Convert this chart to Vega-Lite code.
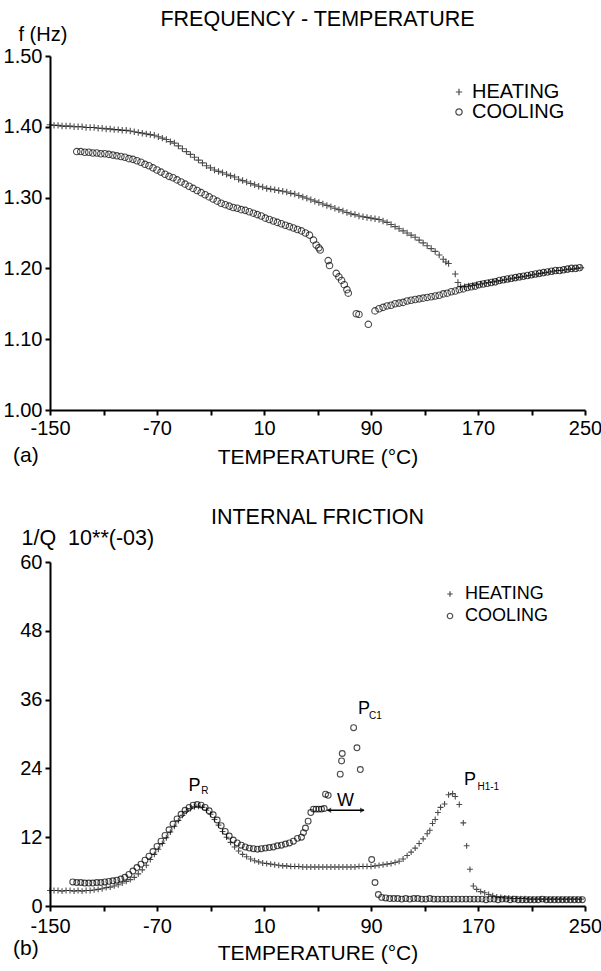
{
"$schema": "https://vega.github.io/schema/vega-lite/v6.json",
"background": "white",
"padding": {"left": 3, "top": 8, "right": 2, "bottom": 2},
"config": {
  "view": {"stroke": null},
  "font": "Liberation Sans",
  "axis": {"grid": false, "domainColor": "black", "domainWidth": 2, "tickColor": "black", "tickWidth": 2, "tickSize": 5, "labelFont": "Liberation Sans", "labelFontSize": 20, "labelColor": "black", "labelPadding": 3, "titleFont": "Liberation Sans", "titleFontSize": 21, "titleFontWeight": "normal", "titleColor": "black", "labelOverlap": false, "labelFlush": false},
  "title": {"font": "Liberation Sans", "fontSize": 21.5, "fontWeight": "normal", "color": "black"},
  "legend": {"labelFont": "Liberation Sans", "labelColor": "black", "title": null, "padding": 0, "symbolStrokeColor": "#000", "symbolStrokeWidth": 1.2}
},
"datasets": {
  "top": [
{"run":"HEATING","T":-150,"f":1.403},{"run":"HEATING","T":-147,"f":1.402},{"run":"HEATING","T":-144,"f":1.402},{"run":"HEATING","T":-141,"f":1.401},{"run":"HEATING","T":-138,"f":1.401},{"run":"HEATING","T":-135,"f":1.401},{"run":"HEATING","T":-132,"f":1.400},{"run":"HEATING","T":-129,"f":1.400},{"run":"HEATING","T":-126,"f":1.400},{"run":"HEATING","T":-123,"f":1.399},{"run":"HEATING","T":-120,"f":1.399},{"run":"HEATING","T":-117,"f":1.399},{"run":"HEATING","T":-114,"f":1.398},{"run":"HEATING","T":-111,"f":1.398},{"run":"HEATING","T":-108,"f":1.397},{"run":"HEATING","T":-105,"f":1.397},{"run":"HEATING","T":-102,"f":1.396},{"run":"HEATING","T":-99,"f":1.396},{"run":"HEATING","T":-96,"f":1.395},{"run":"HEATING","T":-93,"f":1.395},{"run":"HEATING","T":-90,"f":1.394},{"run":"HEATING","T":-87,"f":1.393},{"run":"HEATING","T":-84,"f":1.392},{"run":"HEATING","T":-81,"f":1.391},{"run":"HEATING","T":-78,"f":1.390},{"run":"HEATING","T":-75,"f":1.389},{"run":"HEATING","T":-72,"f":1.388},{"run":"HEATING","T":-69,"f":1.386},{"run":"HEATING","T":-66,"f":1.384},{"run":"HEATING","T":-63,"f":1.382},{"run":"HEATING","T":-60,"f":1.379},{"run":"HEATING","T":-57,"f":1.377},{"run":"HEATING","T":-54,"f":1.373},{"run":"HEATING","T":-51,"f":1.369},{"run":"HEATING","T":-48,"f":1.365},{"run":"HEATING","T":-45,"f":1.361},{"run":"HEATING","T":-42,"f":1.357},{"run":"HEATING","T":-39,"f":1.353},{"run":"HEATING","T":-36,"f":1.349},{"run":"HEATING","T":-33,"f":1.345},{"run":"HEATING","T":-30,"f":1.342},{"run":"HEATING","T":-27,"f":1.339},{"run":"HEATING","T":-24,"f":1.337},{"run":"HEATING","T":-21,"f":1.335},{"run":"HEATING","T":-18,"f":1.333},{"run":"HEATING","T":-15,"f":1.331},{"run":"HEATING","T":-12,"f":1.329},{"run":"HEATING","T":-9,"f":1.326},{"run":"HEATING","T":-6,"f":1.324},{"run":"HEATING","T":-3,"f":1.322},{"run":"HEATING","T":0,"f":1.320},{"run":"HEATING","T":3,"f":1.318},{"run":"HEATING","T":6,"f":1.316},{"run":"HEATING","T":9,"f":1.315},{"run":"HEATING","T":12,"f":1.313},{"run":"HEATING","T":15,"f":1.312},{"run":"HEATING","T":18,"f":1.311},{"run":"HEATING","T":21,"f":1.310},{"run":"HEATING","T":24,"f":1.309},{"run":"HEATING","T":27,"f":1.308},{"run":"HEATING","T":30,"f":1.306},{"run":"HEATING","T":33,"f":1.305},{"run":"HEATING","T":36,"f":1.303},{"run":"HEATING","T":39,"f":1.301},{"run":"HEATING","T":42,"f":1.299},{"run":"HEATING","T":45,"f":1.297},{"run":"HEATING","T":48,"f":1.295},{"run":"HEATING","T":51,"f":1.293},{"run":"HEATING","T":54,"f":1.291},{"run":"HEATING","T":57,"f":1.289},{"run":"HEATING","T":60,"f":1.287},{"run":"HEATING","T":63,"f":1.285},{"run":"HEATING","T":66,"f":1.283},{"run":"HEATING","T":69,"f":1.281},{"run":"HEATING","T":72,"f":1.279},{"run":"HEATING","T":75,"f":1.277},{"run":"HEATING","T":78,"f":1.276},{"run":"HEATING","T":81,"f":1.274},{"run":"HEATING","T":84,"f":1.273},{"run":"HEATING","T":87,"f":1.272},{"run":"HEATING","T":90,"f":1.271},{"run":"HEATING","T":93,"f":1.270},{"run":"HEATING","T":96,"f":1.269},{"run":"HEATING","T":99,"f":1.267},{"run":"HEATING","T":102,"f":1.265},{"run":"HEATING","T":105,"f":1.262},{"run":"HEATING","T":108,"f":1.259},{"run":"HEATING","T":111,"f":1.256},{"run":"HEATING","T":114,"f":1.253},{"run":"HEATING","T":117,"f":1.250},{"run":"HEATING","T":120,"f":1.247},{"run":"HEATING","T":123,"f":1.244},{"run":"HEATING","T":126,"f":1.240},{"run":"HEATING","T":129,"f":1.236},{"run":"HEATING","T":132,"f":1.232},{"run":"HEATING","T":135,"f":1.228},{"run":"HEATING","T":138,"f":1.224},{"run":"HEATING","T":141,"f":1.219},{"run":"HEATING","T":144,"f":1.213},{"run":"HEATING","T":146,"f":1.209},{"run":"HEATING","T":148,"f":1.207},{"run":"HEATING","T":153,"f":1.192},{"run":"HEATING","T":155,"f":1.180},{"run":"HEATING","T":157,"f":1.174},{"run":"HEATING","T":160,"f":1.174},{"run":"HEATING","T":163,"f":1.175},{"run":"HEATING","T":166,"f":1.176},{"run":"HEATING","T":169,"f":1.177},{"run":"HEATING","T":172,"f":1.178},{"run":"HEATING","T":175,"f":1.179},{"run":"HEATING","T":178,"f":1.180},{"run":"HEATING","T":181,"f":1.181},{"run":"HEATING","T":184,"f":1.182},{"run":"HEATING","T":187,"f":1.183},{"run":"HEATING","T":190,"f":1.184},{"run":"HEATING","T":193,"f":1.185},{"run":"HEATING","T":196,"f":1.186},{"run":"HEATING","T":199,"f":1.187},{"run":"HEATING","T":202,"f":1.188},{"run":"HEATING","T":205,"f":1.189},{"run":"HEATING","T":208,"f":1.190},{"run":"HEATING","T":211,"f":1.191},{"run":"HEATING","T":214,"f":1.192},{"run":"HEATING","T":217,"f":1.193},{"run":"HEATING","T":220,"f":1.194},{"run":"HEATING","T":223,"f":1.195},{"run":"HEATING","T":226,"f":1.196},{"run":"HEATING","T":229,"f":1.197},{"run":"HEATING","T":232,"f":1.197},{"run":"HEATING","T":235,"f":1.198},{"run":"HEATING","T":238,"f":1.199},{"run":"HEATING","T":241,"f":1.199},{"run":"HEATING","T":244,"f":1.200},{"run":"HEATING","T":247,"f":1.201},
{"run":"COOLING","T":-130,"f":1.365},{"run":"COOLING","T":-127,"f":1.365},{"run":"COOLING","T":-124,"f":1.364},{"run":"COOLING","T":-121,"f":1.364},{"run":"COOLING","T":-118,"f":1.363},{"run":"COOLING","T":-115,"f":1.363},{"run":"COOLING","T":-112,"f":1.362},{"run":"COOLING","T":-109,"f":1.362},{"run":"COOLING","T":-106,"f":1.361},{"run":"COOLING","T":-103,"f":1.360},{"run":"COOLING","T":-100,"f":1.359},{"run":"COOLING","T":-97,"f":1.358},{"run":"COOLING","T":-94,"f":1.357},{"run":"COOLING","T":-91,"f":1.355},{"run":"COOLING","T":-88,"f":1.354},{"run":"COOLING","T":-85,"f":1.352},{"run":"COOLING","T":-82,"f":1.350},{"run":"COOLING","T":-79,"f":1.347},{"run":"COOLING","T":-76,"f":1.345},{"run":"COOLING","T":-73,"f":1.342},{"run":"COOLING","T":-70,"f":1.339},{"run":"COOLING","T":-67,"f":1.336},{"run":"COOLING","T":-64,"f":1.333},{"run":"COOLING","T":-61,"f":1.330},{"run":"COOLING","T":-58,"f":1.328},{"run":"COOLING","T":-55,"f":1.325},{"run":"COOLING","T":-52,"f":1.322},{"run":"COOLING","T":-49,"f":1.319},{"run":"COOLING","T":-46,"f":1.316},{"run":"COOLING","T":-43,"f":1.313},{"run":"COOLING","T":-40,"f":1.310},{"run":"COOLING","T":-37,"f":1.307},{"run":"COOLING","T":-34,"f":1.304},{"run":"COOLING","T":-31,"f":1.301},{"run":"COOLING","T":-28,"f":1.298},{"run":"COOLING","T":-25,"f":1.295},{"run":"COOLING","T":-22,"f":1.292},{"run":"COOLING","T":-19,"f":1.290},{"run":"COOLING","T":-16,"f":1.288},{"run":"COOLING","T":-13,"f":1.286},{"run":"COOLING","T":-10,"f":1.285},{"run":"COOLING","T":-7,"f":1.283},{"run":"COOLING","T":-4,"f":1.282},{"run":"COOLING","T":-1,"f":1.280},{"run":"COOLING","T":2,"f":1.278},{"run":"COOLING","T":5,"f":1.276},{"run":"COOLING","T":8,"f":1.274},{"run":"COOLING","T":11,"f":1.271},{"run":"COOLING","T":14,"f":1.269},{"run":"COOLING","T":17,"f":1.267},{"run":"COOLING","T":20,"f":1.265},{"run":"COOLING","T":23,"f":1.263},{"run":"COOLING","T":26,"f":1.261},{"run":"COOLING","T":29,"f":1.259},{"run":"COOLING","T":32,"f":1.257},{"run":"COOLING","T":35,"f":1.255},{"run":"COOLING","T":38,"f":1.253},{"run":"COOLING","T":41,"f":1.250},{"run":"COOLING","T":44,"f":1.247},{"run":"COOLING","T":47,"f":1.240},{"run":"COOLING","T":49,"f":1.233},{"run":"COOLING","T":51,"f":1.229},{"run":"COOLING","T":52,"f":1.226},{"run":"COOLING","T":58,"f":1.211},{"run":"COOLING","T":59,"f":1.204},{"run":"COOLING","T":64,"f":1.193},{"run":"COOLING","T":66,"f":1.188},{"run":"COOLING","T":68,"f":1.183},{"run":"COOLING","T":70,"f":1.177},{"run":"COOLING","T":72,"f":1.170},{"run":"COOLING","T":73,"f":1.165},{"run":"COOLING","T":79,"f":1.136},{"run":"COOLING","T":81,"f":1.135},{"run":"COOLING","T":88,"f":1.121},{"run":"COOLING","T":93,"f":1.140},{"run":"COOLING","T":96,"f":1.143},{"run":"COOLING","T":99,"f":1.145},{"run":"COOLING","T":102,"f":1.147},{"run":"COOLING","T":105,"f":1.148},{"run":"COOLING","T":108,"f":1.150},{"run":"COOLING","T":111,"f":1.151},{"run":"COOLING","T":114,"f":1.152},{"run":"COOLING","T":117,"f":1.154},{"run":"COOLING","T":120,"f":1.155},{"run":"COOLING","T":123,"f":1.156},{"run":"COOLING","T":126,"f":1.157},{"run":"COOLING","T":129,"f":1.158},{"run":"COOLING","T":132,"f":1.159},{"run":"COOLING","T":135,"f":1.160},{"run":"COOLING","T":138,"f":1.161},{"run":"COOLING","T":141,"f":1.162},{"run":"COOLING","T":144,"f":1.164},{"run":"COOLING","T":147,"f":1.165},{"run":"COOLING","T":150,"f":1.167},{"run":"COOLING","T":153,"f":1.168},{"run":"COOLING","T":156,"f":1.170},{"run":"COOLING","T":159,"f":1.171},{"run":"COOLING","T":162,"f":1.173},{"run":"COOLING","T":165,"f":1.174},{"run":"COOLING","T":168,"f":1.175},{"run":"COOLING","T":171,"f":1.177},{"run":"COOLING","T":174,"f":1.178},{"run":"COOLING","T":177,"f":1.179},{"run":"COOLING","T":180,"f":1.180},{"run":"COOLING","T":183,"f":1.181},{"run":"COOLING","T":186,"f":1.183},{"run":"COOLING","T":189,"f":1.184},{"run":"COOLING","T":192,"f":1.185},{"run":"COOLING","T":195,"f":1.186},{"run":"COOLING","T":198,"f":1.187},{"run":"COOLING","T":201,"f":1.188},{"run":"COOLING","T":204,"f":1.189},{"run":"COOLING","T":207,"f":1.190},{"run":"COOLING","T":210,"f":1.191},{"run":"COOLING","T":213,"f":1.192},{"run":"COOLING","T":216,"f":1.193},{"run":"COOLING","T":219,"f":1.194},{"run":"COOLING","T":222,"f":1.195},{"run":"COOLING","T":225,"f":1.196},{"run":"COOLING","T":228,"f":1.197},{"run":"COOLING","T":231,"f":1.197},{"run":"COOLING","T":234,"f":1.198},{"run":"COOLING","T":237,"f":1.199},{"run":"COOLING","T":240,"f":1.200},{"run":"COOLING","T":243,"f":1.200},{"run":"COOLING","T":246,"f":1.201}
  ],
  "bot": [
{"run":"HEATING","T":-150,"v":2.7},{"run":"HEATING","T":-147,"v":2.7},{"run":"HEATING","T":-144,"v":2.7},{"run":"HEATING","T":-141,"v":2.6},{"run":"HEATING","T":-138,"v":2.7},{"run":"HEATING","T":-135,"v":2.7},{"run":"HEATING","T":-132,"v":2.6},{"run":"HEATING","T":-129,"v":2.7},{"run":"HEATING","T":-126,"v":2.6},{"run":"HEATING","T":-123,"v":2.7},{"run":"HEATING","T":-120,"v":2.7},{"run":"HEATING","T":-117,"v":2.8},{"run":"HEATING","T":-114,"v":2.9},{"run":"HEATING","T":-111,"v":3.0},{"run":"HEATING","T":-108,"v":3.2},{"run":"HEATING","T":-105,"v":3.3},{"run":"HEATING","T":-102,"v":3.5},{"run":"HEATING","T":-99,"v":3.7},{"run":"HEATING","T":-96,"v":4.0},{"run":"HEATING","T":-93,"v":4.3},{"run":"HEATING","T":-90,"v":4.6},{"run":"HEATING","T":-87,"v":5.0},{"run":"HEATING","T":-84,"v":5.6},{"run":"HEATING","T":-81,"v":6.3},{"run":"HEATING","T":-78,"v":7.1},{"run":"HEATING","T":-75,"v":8.1},{"run":"HEATING","T":-72,"v":9.0},{"run":"HEATING","T":-69,"v":9.9},{"run":"HEATING","T":-66,"v":10.9},{"run":"HEATING","T":-63,"v":11.9},{"run":"HEATING","T":-60,"v":12.9},{"run":"HEATING","T":-57,"v":13.9},{"run":"HEATING","T":-54,"v":14.9},{"run":"HEATING","T":-51,"v":15.8},{"run":"HEATING","T":-48,"v":16.5},{"run":"HEATING","T":-45,"v":17.0},{"run":"HEATING","T":-42,"v":17.3},{"run":"HEATING","T":-39,"v":17.4},{"run":"HEATING","T":-36,"v":17.2},{"run":"HEATING","T":-33,"v":16.7},{"run":"HEATING","T":-30,"v":16.0},{"run":"HEATING","T":-27,"v":15.1},{"run":"HEATING","T":-24,"v":14.1},{"run":"HEATING","T":-21,"v":13.0},{"run":"HEATING","T":-18,"v":12.0},{"run":"HEATING","T":-15,"v":11.1},{"run":"HEATING","T":-12,"v":10.3},{"run":"HEATING","T":-9,"v":9.6},{"run":"HEATING","T":-6,"v":9.0},{"run":"HEATING","T":-3,"v":8.6},{"run":"HEATING","T":0,"v":8.2},{"run":"HEATING","T":3,"v":7.9},{"run":"HEATING","T":6,"v":7.7},{"run":"HEATING","T":9,"v":7.5},{"run":"HEATING","T":12,"v":7.4},{"run":"HEATING","T":15,"v":7.3},{"run":"HEATING","T":18,"v":7.2},{"run":"HEATING","T":21,"v":7.1},{"run":"HEATING","T":24,"v":7.0},{"run":"HEATING","T":27,"v":7.0},{"run":"HEATING","T":30,"v":6.9},{"run":"HEATING","T":33,"v":6.9},{"run":"HEATING","T":36,"v":6.9},{"run":"HEATING","T":39,"v":6.8},{"run":"HEATING","T":42,"v":6.8},{"run":"HEATING","T":45,"v":6.8},{"run":"HEATING","T":48,"v":6.8},{"run":"HEATING","T":51,"v":6.8},{"run":"HEATING","T":54,"v":6.8},{"run":"HEATING","T":57,"v":6.8},{"run":"HEATING","T":60,"v":6.8},{"run":"HEATING","T":63,"v":6.8},{"run":"HEATING","T":66,"v":6.8},{"run":"HEATING","T":69,"v":6.8},{"run":"HEATING","T":72,"v":6.8},{"run":"HEATING","T":75,"v":6.8},{"run":"HEATING","T":78,"v":6.8},{"run":"HEATING","T":81,"v":6.9},{"run":"HEATING","T":84,"v":6.9},{"run":"HEATING","T":87,"v":6.9},{"run":"HEATING","T":90,"v":6.9},{"run":"HEATING","T":93,"v":7.0},{"run":"HEATING","T":96,"v":7.1},{"run":"HEATING","T":99,"v":7.2},{"run":"HEATING","T":102,"v":7.3},{"run":"HEATING","T":105,"v":7.4},{"run":"HEATING","T":108,"v":7.6},{"run":"HEATING","T":111,"v":7.8},{"run":"HEATING","T":114,"v":8.2},{"run":"HEATING","T":117,"v":8.8},{"run":"HEATING","T":120,"v":9.4},{"run":"HEATING","T":123,"v":10.1},{"run":"HEATING","T":126,"v":10.9},{"run":"HEATING","T":129,"v":11.7},{"run":"HEATING","T":132,"v":12.6},{"run":"HEATING","T":134,"v":13.2},{"run":"HEATING","T":136,"v":14.4},{"run":"HEATING","T":138,"v":15.1},{"run":"HEATING","T":140,"v":16.3},{"run":"HEATING","T":142,"v":17.2},{"run":"HEATING","T":145,"v":17.8},{"run":"HEATING","T":148,"v":19.4},{"run":"HEATING","T":151,"v":19.6},{"run":"HEATING","T":153,"v":19.1},{"run":"HEATING","T":156,"v":17.7},{"run":"HEATING","T":159,"v":14.5},{"run":"HEATING","T":161.5,"v":10.5},{"run":"HEATING","T":164,"v":6.4},{"run":"HEATING","T":166.5,"v":3.5},{"run":"HEATING","T":169,"v":2.9},{"run":"HEATING","T":172,"v":2.5},{"run":"HEATING","T":175,"v":2.3},{"run":"HEATING","T":178,"v":2.0},{"run":"HEATING","T":181,"v":1.8},{"run":"HEATING","T":184,"v":1.6},{"run":"HEATING","T":187,"v":1.5},{"run":"HEATING","T":190,"v":1.4},{"run":"HEATING","T":193,"v":1.4},{"run":"HEATING","T":196,"v":1.3},{"run":"HEATING","T":199,"v":1.3},{"run":"HEATING","T":202,"v":1.3},{"run":"HEATING","T":205,"v":1.3},{"run":"HEATING","T":208,"v":1.2},{"run":"HEATING","T":211,"v":1.2},{"run":"HEATING","T":214,"v":1.2},{"run":"HEATING","T":217,"v":1.2},{"run":"HEATING","T":220,"v":1.2},{"run":"HEATING","T":223,"v":1.2},{"run":"HEATING","T":226,"v":1.2},{"run":"HEATING","T":229,"v":1.2},{"run":"HEATING","T":232,"v":1.2},{"run":"HEATING","T":235,"v":1.2},{"run":"HEATING","T":238,"v":1.2},{"run":"HEATING","T":241,"v":1.2},{"run":"HEATING","T":244,"v":1.2},{"run":"HEATING","T":247,"v":1.2},
{"run":"COOLING","T":-133,"v":4.2},{"run":"COOLING","T":-130,"v":4.1},{"run":"COOLING","T":-127,"v":4.1},{"run":"COOLING","T":-124,"v":4.0},{"run":"COOLING","T":-121,"v":4.0},{"run":"COOLING","T":-118,"v":4.0},{"run":"COOLING","T":-115,"v":4.1},{"run":"COOLING","T":-112,"v":4.1},{"run":"COOLING","T":-109,"v":4.2},{"run":"COOLING","T":-106,"v":4.3},{"run":"COOLING","T":-103,"v":4.4},{"run":"COOLING","T":-100,"v":4.5},{"run":"COOLING","T":-97,"v":4.7},{"run":"COOLING","T":-94,"v":5.0},{"run":"COOLING","T":-91,"v":5.5},{"run":"COOLING","T":-88,"v":6.1},{"run":"COOLING","T":-85,"v":6.7},{"run":"COOLING","T":-82,"v":7.3},{"run":"COOLING","T":-79,"v":8.0},{"run":"COOLING","T":-76,"v":8.7},{"run":"COOLING","T":-73,"v":9.5},{"run":"COOLING","T":-70,"v":10.4},{"run":"COOLING","T":-67,"v":11.3},{"run":"COOLING","T":-64,"v":12.3},{"run":"COOLING","T":-61,"v":13.3},{"run":"COOLING","T":-58,"v":14.3},{"run":"COOLING","T":-55,"v":15.2},{"run":"COOLING","T":-52,"v":16.0},{"run":"COOLING","T":-49,"v":16.7},{"run":"COOLING","T":-46,"v":17.2},{"run":"COOLING","T":-43,"v":17.6},{"run":"COOLING","T":-40,"v":17.7},{"run":"COOLING","T":-37,"v":17.6},{"run":"COOLING","T":-34,"v":17.2},{"run":"COOLING","T":-31,"v":16.6},{"run":"COOLING","T":-28,"v":15.9},{"run":"COOLING","T":-25,"v":15.0},{"run":"COOLING","T":-22,"v":14.0},{"run":"COOLING","T":-19,"v":13.0},{"run":"COOLING","T":-16,"v":12.2},{"run":"COOLING","T":-13,"v":11.5},{"run":"COOLING","T":-10,"v":11.0},{"run":"COOLING","T":-7,"v":10.6},{"run":"COOLING","T":-4,"v":10.3},{"run":"COOLING","T":-1,"v":10.1},{"run":"COOLING","T":2,"v":10.0},{"run":"COOLING","T":5,"v":9.9},{"run":"COOLING","T":8,"v":10.0},{"run":"COOLING","T":11,"v":10.1},{"run":"COOLING","T":14,"v":10.2},{"run":"COOLING","T":17,"v":10.3},{"run":"COOLING","T":20,"v":10.5},{"run":"COOLING","T":23,"v":10.6},{"run":"COOLING","T":26,"v":10.8},{"run":"COOLING","T":29,"v":11.0},{"run":"COOLING","T":32,"v":11.3},{"run":"COOLING","T":35,"v":11.8},{"run":"COOLING","T":38,"v":12.0},{"run":"COOLING","T":39.5,"v":12.8},{"run":"COOLING","T":41,"v":13.6},{"run":"COOLING","T":43,"v":14.8},{"run":"COOLING","T":45,"v":16.3},{"run":"COOLING","T":47,"v":16.9},{"run":"COOLING","T":49,"v":16.9},{"run":"COOLING","T":51,"v":16.9},{"run":"COOLING","T":53,"v":16.9},{"run":"COOLING","T":55,"v":17.0},{"run":"COOLING","T":56,"v":19.5},{"run":"COOLING","T":58,"v":19.3},{"run":"COOLING","T":67,"v":23.0},{"run":"COOLING","T":68,"v":25.3},{"run":"COOLING","T":68.5,"v":26.6},{"run":"COOLING","T":77,"v":31.1},{"run":"COOLING","T":79.5,"v":27.6},{"run":"COOLING","T":82,"v":23.8},{"run":"COOLING","T":90.5,"v":8.1},{"run":"COOLING","T":93,"v":4.1},{"run":"COOLING","T":95.5,"v":2.0},{"run":"COOLING","T":98,"v":1.5},{"run":"COOLING","T":101,"v":1.4},{"run":"COOLING","T":104,"v":1.3},{"run":"COOLING","T":107,"v":1.3},{"run":"COOLING","T":110,"v":1.3},{"run":"COOLING","T":113,"v":1.2},{"run":"COOLING","T":116,"v":1.3},{"run":"COOLING","T":119,"v":1.2},{"run":"COOLING","T":122,"v":1.3},{"run":"COOLING","T":125,"v":1.3},{"run":"COOLING","T":128,"v":1.2},{"run":"COOLING","T":131,"v":1.2},{"run":"COOLING","T":134,"v":1.3},{"run":"COOLING","T":137,"v":1.2},{"run":"COOLING","T":140,"v":1.2},{"run":"COOLING","T":143,"v":1.2},{"run":"COOLING","T":146,"v":1.2},{"run":"COOLING","T":149,"v":1.2},{"run":"COOLING","T":152,"v":1.2},{"run":"COOLING","T":155,"v":1.2},{"run":"COOLING","T":158,"v":1.2},{"run":"COOLING","T":161,"v":1.2},{"run":"COOLING","T":164,"v":1.2},{"run":"COOLING","T":167,"v":1.2},{"run":"COOLING","T":170,"v":1.2},{"run":"COOLING","T":173,"v":1.2},{"run":"COOLING","T":176,"v":1.1},{"run":"COOLING","T":179,"v":1.2},{"run":"COOLING","T":182,"v":1.2},{"run":"COOLING","T":185,"v":1.1},{"run":"COOLING","T":188,"v":1.2},{"run":"COOLING","T":191,"v":1.2},{"run":"COOLING","T":194,"v":1.1},{"run":"COOLING","T":197,"v":1.2},{"run":"COOLING","T":200,"v":1.1},{"run":"COOLING","T":203,"v":1.1},{"run":"COOLING","T":206,"v":1.1},{"run":"COOLING","T":209,"v":1.1},{"run":"COOLING","T":212,"v":1.1},{"run":"COOLING","T":215,"v":1.1},{"run":"COOLING","T":218,"v":1.2},{"run":"COOLING","T":221,"v":1.1},{"run":"COOLING","T":224,"v":1.1},{"run":"COOLING","T":227,"v":1.1},{"run":"COOLING","T":230,"v":1.1},{"run":"COOLING","T":233,"v":1.1},{"run":"COOLING","T":236,"v":1.1},{"run":"COOLING","T":239,"v":1.1},{"run":"COOLING","T":242,"v":1.1},{"run":"COOLING","T":245,"v":1.1},{"run":"COOLING","T":248,"v":1.1}
  ],
  "peaks": [{"T":-42,"v":20.9,"label":"P"},{"T":84.7,"v":34.3,"label":"P"},{"T":164,"v":21.9,"label":"P"}],
  "subs": [{"T":-34.2,"v":20.1,"label":"R"},{"T":93.3,"v":33.1,"label":"C1"},{"T":177.7,"v":20.8,"label":"H1-1"}],
  "wlab": [{"T":71,"v":18.4,"label":"W"}],
  "arrow": [{"T1":57.4,"T2":84.7,"v":16.7}],
  "headL": [{"T":58.5,"v":16.7}],
  "headR": [{"T":83.6,"v":16.7}],
  "tagA": [{"T":-168,"f":0.935,"label":"(a)"}],
  "tagB": [{"T":-168,"v":-7.5,"label":"(b)"}]
},
"spacing": 152,
"bounds": "flush",
"resolve": {"scale": {"x": "independent", "y": "independent", "shape": "independent"}, "legend": {"shape": "independent"}},
"vconcat": [
 {
  "width": 535, "height": 354,
  "title": {"text": "FREQUENCY - TEMPERATURE", "frame": "group", "anchor": "middle", "offset": -6},
  "layer": [
   {
    "data": {"name": "top"},
    "mark": {"type": "point", "filled": false, "color": "#000", "strokeWidth": 1.1, "size": 42},
    "encoding": {
      "x": {"field": "T", "type": "quantitative", "scale": {"domain": [-150, 250], "nice": false, "zero": false},
            "axis": {"values": [-150,-110,-70,-30,10,50,90,130,170,210,250], "labelExpr": "(datum.value + 150) % 80 == 0 ? ((datum.value < 0 ? '-' : '') + abs(datum.value)) : ''", "title": "TEMPERATURE (°C)", "titlePadding": 8}},
      "y": {"field": "f", "type": "quantitative", "scale": {"domain": [1.0, 1.5], "nice": false, "zero": false},
            "axis": {"values": [1.0,1.05,1.1,1.15,1.2,1.25,1.3,1.35,1.4,1.45,1.5], "labelExpr": "abs(datum.value*10 - round(datum.value*10)) < 0.001 ? format(datum.value, '.2f') : ''", "title": "f (Hz)", "titleFontSize": 20, "titleAngle": 0, "titleAlign": "left", "titleBaseline": "middle", "titleX": -32, "titleY": -22}},
      "shape": {"field": "run", "type": "nominal", "scale": {"domain": ["HEATING", "COOLING"], "range": ["M-1,0H1M0,-1V1", "circle"]},
                "legend": {"orient": "none", "legendX": 399, "legendY": 26, "symbolSize": 40, "labelFontSize": 20, "labelOffset": 3, "rowPadding": 0}}
    }
   },
   {
    "data": {"name": "tagA"},
    "mark": {"type": "text", "fontSize": 21, "align": "center", "baseline": "middle", "color": "black"},
    "encoding": {
      "x": {"field": "T", "type": "quantitative", "scale": {"domain": [-150, 250], "nice": false, "zero": false}},
      "y": {"field": "f", "type": "quantitative", "scale": {"domain": [1.0, 1.5], "nice": false, "zero": false}},
      "text": {"field": "label"}
    }
   }
  ]
 },
 {
  "width": 535, "height": 344,
  "title": {"text": "INTERNAL FRICTION", "frame": "group", "anchor": "middle", "offset": -1},
  "layer": [
   {
    "data": {"name": "bot"},
    "mark": {"type": "point", "filled": false, "color": "#000", "strokeWidth": 1.1, "size": 34},
    "encoding": {
      "x": {"field": "T", "type": "quantitative", "scale": {"domain": [-150, 250], "nice": false, "zero": false},
            "axis": {"values": [-150,-110,-70,-30,10,50,90,130,170,210,250], "labelExpr": "(datum.value + 150) % 80 == 0 ? ((datum.value < 0 ? '-' : '') + abs(datum.value)) : ''", "title": "TEMPERATURE (°C)", "titlePadding": 6, "labelPadding": 5}},
      "y": {"field": "v", "type": "quantitative", "scale": {"domain": [0, 60], "nice": false},
            "axis": {"values": [0,6,12,18,24,30,36,42,48,54,60], "labelExpr": "datum.value % 12 == 0 ? datum.label : ''", "title": "1/Q \u00a010**(-03)", "titleFontSize": 21.5, "titleAngle": 0, "titleAlign": "left", "titleBaseline": "middle", "titleX": -29, "titleY": -24}},
      "shape": {"field": "run", "type": "nominal", "scale": {"domain": ["HEATING", "COOLING"], "range": ["M-1,0H1M0,-1V1", "circle"]},
                "legend": {"orient": "none", "legendX": 391, "legendY": 23, "symbolSize": 30, "labelFontSize": 18, "labelOffset": 6, "rowPadding": 4}}
    }
   },
   {
    "data": {"name": "tagB"},
    "mark": {"type": "text", "fontSize": 21, "align": "center", "baseline": "middle", "color": "black"},
    "encoding": {
      "x": {"field": "T", "type": "quantitative", "scale": {"domain": [-150, 250], "nice": false, "zero": false}},
      "y": {"field": "v", "type": "quantitative", "scale": {"domain": [0, 60], "nice": false}},
      "text": {"field": "label"}
    }
   },
   {
    "data": {"name": "peaks"},
    "mark": {"type": "text", "fontSize": 18, "align": "center", "baseline": "middle", "color": "black"},
    "encoding": {
      "x": {"field": "T", "type": "quantitative", "scale": {"domain": [-150, 250], "nice": false, "zero": false}},
      "y": {"field": "v", "type": "quantitative", "scale": {"domain": [0, 60], "nice": false}},
      "text": {"field": "label"}
    }
   },
   {
    "data": {"name": "subs"},
    "mark": {"type": "text", "fontSize": 10, "align": "center", "baseline": "middle", "color": "black"},
    "encoding": {
      "x": {"field": "T", "type": "quantitative", "scale": {"domain": [-150, 250], "nice": false, "zero": false}},
      "y": {"field": "v", "type": "quantitative", "scale": {"domain": [0, 60], "nice": false}},
      "text": {"field": "label"}
    }
   },
   {
    "data": {"name": "wlab"},
    "mark": {"type": "text", "fontSize": 18, "align": "center", "baseline": "middle", "color": "black"},
    "encoding": {
      "x": {"field": "T", "type": "quantitative", "scale": {"domain": [-150, 250], "nice": false, "zero": false}},
      "y": {"field": "v", "type": "quantitative", "scale": {"domain": [0, 60], "nice": false}},
      "text": {"field": "label"}
    }
   },
   {
    "data": {"name": "arrow"},
    "mark": {"type": "rule", "color": "black", "strokeWidth": 1.3},
    "encoding": {
      "x": {"field": "T1", "type": "quantitative", "scale": {"domain": [-150, 250], "nice": false, "zero": false}},
      "x2": {"field": "T2"},
      "y": {"field": "v", "type": "quantitative", "scale": {"domain": [0, 60], "nice": false}}
    }
   },
   {
    "data": {"name": "headL"},
    "mark": {"type": "point", "shape": "triangle-left", "filled": true, "color": "black", "size": 28},
    "encoding": {
      "x": {"field": "T", "type": "quantitative", "scale": {"domain": [-150, 250], "nice": false, "zero": false}},
      "y": {"field": "v", "type": "quantitative", "scale": {"domain": [0, 60], "nice": false}}
    }
   },
   {
    "data": {"name": "headR"},
    "mark": {"type": "point", "shape": "triangle-right", "filled": true, "color": "black", "size": 28},
    "encoding": {
      "x": {"field": "T", "type": "quantitative", "scale": {"domain": [-150, 250], "nice": false, "zero": false}},
      "y": {"field": "v", "type": "quantitative", "scale": {"domain": [0, 60], "nice": false}}
    }
   }
  ]
 }
]
}
